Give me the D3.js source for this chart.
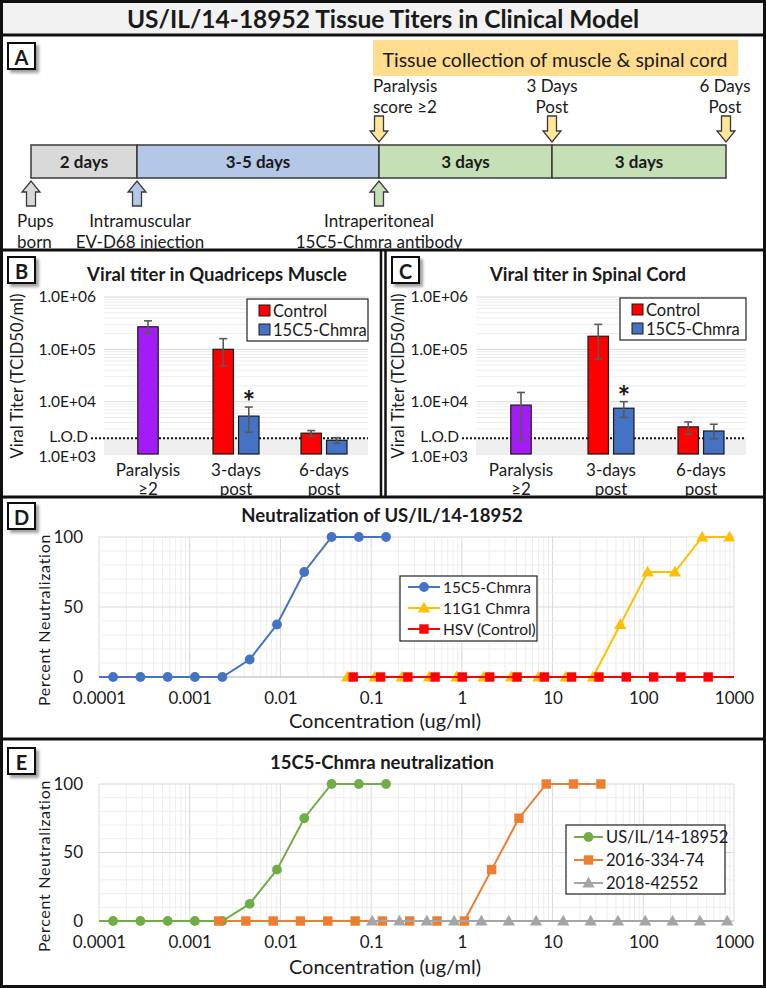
<!DOCTYPE html>
<html><head><meta charset="utf-8">
<script src="https://cdn.jsdelivr.net/npm/d3@7"></script>
<style>
body{margin:0;background:#fff}
svg{display:block}
text{font-family:Lato,"Open Sans",sans-serif;fill:#1a1a1a}
</style>
</head><body>
<svg id="fig" width="766" height="988"></svg>
<script>
// ---------------- DATA ----------------
const figureTitle = "US/IL/14-18952 Tissue Titers in Clinical Model";

// Panel A (timeline diagram)
const timelineSegments = ["2 days", "3-5 days", "3 days", "3 days"];
const collectionNote = "Tissue collection of muscle & spinal cord";
const topEventLines = [["Paralysis", "score \u22652"], ["3 Days", "Post"], ["6 Days", "Post"]];
const bottomEventLines = [["Pups", "born"], ["Intramuscular", "EV-D68 injection"], ["Intraperitoneal", "15C5-Chmra antibody"]];

// Panels B & C (viral titer, TCID50/ml)
const titerCategories = ["Paralysis \u22652", "3-days post", "6-days post"];
const titerCategoryLines = [["Paralysis", "\u22652"], ["3-days", "post"], ["6-days", "post"]];
const barCategory = ["Paralysis \u22652", "3-days post", "3-days post", "6-days post", "6-days post"];
const barSeries = ["Paralysis", "Control", "15C5-Chmra", "Control", "15C5-Chmra"];
const muscleMean = [2.7e5, 1.0e5, 5.3e3, 2.5e3, 1.83e3];
const muscleErrLow = [2.0e5, 4.8e4, 2.6e3, 2.15e3, 1.6e3];
const muscleErrHigh = [3.5e5, 1.6e5, 7.9e3, 2.8e3, 2.05e3];
const muscleSignificant = [false, false, true, false, false];
const cordMean = [8.6e3, 1.78e5, 7.5e3, 3.3e3, 2.75e3];
const cordErrLow = [1.85e3, 6.5e4, 5.0e3, 2.4e3, 1.95e3];
const cordErrHigh = [1.5e4, 3.0e5, 1.0e4, 4.1e3, 3.7e3];
const cordSignificant = [false, false, true, false, false];
const limitOfDetection = 2.0e3;
const titerTickValues = [1e3, 1e4, 1e5, 1e6];
const titerTickLabels = ["1.0E+03", "1.0E+04", "1.0E+05", "1.0E+06"];
const titerLegend = ["Control", "15C5-Chmra"];

// Panel D (Neutralization of US/IL/14-18952), concentration ug/ml vs % neutralization
const concA15C5 = [0.0000715, 0.000143, 0.000286, 0.000572, 0.00114, 0.00229, 0.00458, 0.00916, 0.0183, 0.0366, 0.0732, 0.146];
const neutA15C5 = [0, 0, 0, 0, 0, 0, 12.5, 37.5, 75, 100, 100, 100];
const conc11G1 = [0.0545, 0.109, 0.218, 0.436, 0.872, 1.74, 3.49, 6.98, 13.95, 27.9, 55.8, 111.6, 223, 446, 893];
const neut11G1 = [0, 0, 0, 0, 0, 0, 0, 0, 0, 0, 37.5, 75, 75, 100, 100];
const concHSV = [0.0634, 0.127, 0.254, 0.507, 1.01, 2.03, 4.06, 8.12, 16.2, 32.5, 64.9, 130, 260, 519, 1039];
const neutHSV = [0, 0, 0, 0, 0, 0, 0, 0, 0, 0, 0, 0, 0, 0, 0];
const seriesNamesD = ["15C5-Chmra", "11G1 Chmra", "HSV (Control)"];

// Panel E (15C5-Chmra neutralization of three strains)
const concUSIL = [0.0000715, 0.000143, 0.000286, 0.000572, 0.00114, 0.00229, 0.00458, 0.00916, 0.0183, 0.0366, 0.0732, 0.146];
const neutUSIL = [0, 0, 0, 0, 0, 0, 12.5, 37.5, 75, 100, 100, 100];
const conc2016 = [0.00208, 0.00416, 0.00832, 0.0166, 0.0333, 0.0666, 0.133, 0.266, 0.532, 1.065, 2.13, 4.26, 8.52, 17.0, 34.1];
const neut2016 = [0, 0, 0, 0, 0, 0, 0, 0, 0, 0, 37.5, 75, 100, 100, 100];
const conc2018 = [0.1027, 0.205, 0.411, 0.822, 1.64, 3.29, 6.57, 13.1, 26.3, 52.6, 105, 210, 421, 841];
const neut2018 = [0, 0, 0, 0, 0, 0, 0, 0, 0, 0, 0, 0, 0, 0];
const seriesNamesE = ["US/IL/14-18952", "2016-334-74", "2018-42552"];

const concTickValues = [1e-4, 1e-3, 1e-2, 1e-1, 1, 10, 100, 1000];
const concTickLabels = ["0.0001", "0.001", "0.01", "0.1", "1", "10", "100", "1000"];
const neutTickValues = [0, 50, 100];

// ---------------- DRAWING ----------------
const svg = d3.select("#fig");
const defs = svg.append("defs");
const sh = defs.append("filter").attr("id", "shadow").attr("x", "-30%").attr("y", "-30%").attr("width", "170%").attr("height", "170%");
sh.append("feDropShadow").attr("dx", 3).attr("dy", 3).attr("stdDeviation", 1.6).attr("flood-color", "#777").attr("flood-opacity", 0.7);

svg.append("rect").attr("width", 766).attr("height", 988).attr("fill", "#fff");

// Title band
svg.append("rect").attr("x", 0).attr("y", 0).attr("width", 766).attr("height", 35).attr("fill", "#F2F2F2");
svg.append("text").attr("x", 383).attr("y", 18).attr("text-anchor", "middle").attr("dominant-baseline", "central")
  .attr("font-size", 24.5).attr("font-weight", 700).text(figureTitle);

// Panel frames
const frame = svg.append("g").attr("stroke", "#111").attr("stroke-width", 3).attr("fill", "none");
frame.append("rect").attr("x", 1.5).attr("y", 1.5).attr("width", 763).attr("height", 985);
[35, 250, 497, 739].forEach(yy => frame.append("line").attr("x1", 0).attr("x2", 766).attr("y1", yy).attr("y2", yy));
frame.append("line").attr("x1", 381).attr("x2", 381).attr("y1", 250).attr("y2", 497).attr("stroke-width", 2.5);
frame.append("line").attr("x1", 385.5).attr("x2", 385.5).attr("y1", 250).attr("y2", 497).attr("stroke-width", 2.5);

function panelLabel(x, y, letter) {
  const g = svg.append("g");
  g.append("rect").attr("x", x).attr("y", y).attr("width", 27).attr("height", 26)
    .attr("fill", "#fff").attr("stroke", "#111").attr("stroke-width", 2).attr("filter", "url(#shadow)");
  g.append("text").attr("x", x + 13.5).attr("y", y + 13.5).attr("text-anchor", "middle").attr("dominant-baseline", "central")
    .attr("font-size", 20).attr("font-weight", 700).text(letter);
}
panelLabel(8, 43, "A");
panelLabel(8, 257, "B");
panelLabel(392, 257, "C");
panelLabel(8, 503, "D");
panelLabel(8, 748, "E");

// ---------- Panel A ----------
(function () {
  const g = svg.append("g");
  const bounds = [31, 137, 379, 552, 726];
  const segFill = ["#D9D9D9", "#B4C7E7", "#C5E0B4", "#C5E0B4"];
  const ty = 145, th = 33;
  g.append("rect").attr("x", 373).attr("y", 40).attr("width", 365).attr("height", 36).attr("fill", "#FFDC8E");
  g.append("text").attr("x", 555).attr("y", 59).attr("text-anchor", "middle").attr("dominant-baseline", "central")
    .attr("font-size", 19.5).text(collectionNote);
  timelineSegments.forEach((s, i) => {
    g.append("rect").attr("x", bounds[i]).attr("y", ty).attr("width", bounds[i + 1] - bounds[i]).attr("height", th)
      .attr("fill", segFill[i]).attr("stroke", "#3a3a3a").attr("stroke-width", 1.5);
    g.append("text").attr("x", (bounds[i] + bounds[i + 1]) / 2).attr("y", ty + th / 2).attr("text-anchor", "middle")
      .attr("dominant-baseline", "central").attr("font-size", 17).attr("font-weight", 700).text(s);
  });
  function arrow(cx, yFrom, yTo, fill) {
    const dir = yTo > yFrom ? 1 : -1, sw = 4.5, hw = 9, hl = 11;
    const pts = [[cx - sw, yFrom], [cx + sw, yFrom], [cx + sw, yTo - dir * hl], [cx + hw, yTo - dir * hl], [cx, yTo],
      [cx - hw, yTo - dir * hl], [cx - sw, yTo - dir * hl]];
    g.append("path").attr("d", d3.line()(pts) + "Z").attr("fill", fill).attr("stroke", "#3a3a3a").attr("stroke-width", 1.3);
  }
  [2, 3, 4].forEach(i => arrow(bounds[i], 116, 142, "#FFE699"));
  [0, 1, 2].forEach(i => arrow(bounds[i], 206, 181, segFill[i]));
  const topX = [373, 552, 725], topAnchor = ["start", "middle", "middle"];
  topEventLines.forEach((lines, i) => lines.forEach((l, j) =>
    g.append("text").attr("x", topX[i]).attr("y", 85 + j * 21).attr("text-anchor", topAnchor[i])
      .attr("dominant-baseline", "central").attr("font-size", 17).text(l)));
  const botX = [17, 140, 379], botAnchor = ["start", "middle", "middle"];
  bottomEventLines.forEach((lines, i) => lines.forEach((l, j) =>
    g.append("text").attr("x", botX[i]).attr("y", 220 + j * 21).attr("text-anchor", botAnchor[i])
      .attr("dominant-baseline", "central").attr("font-size", 17).text(l)));
})();

// ---------- Panels B & C ----------
const seriesColor = {"Paralysis": "#A31CF5", "Control": "#FF0000", "15C5-Chmra": "#4472C4"};
function titerPanel(o) {
  const g = svg.append("g");
  const y = d3.scaleLog().domain([1e3, 1e6]).range([454, 297]);
  const x = d3.scaleBand().domain(titerCategories).range([o.x0, o.x1]);
  const sub = d3.scaleBand().domain(titerLegend).range([-23, 23]).paddingInner(0.2);
  const bw = sub.bandwidth();
  g.append("text").attr("x", o.titleX).attr("y", 274).attr("text-anchor", "middle").attr("dominant-baseline", "central")
    .attr("font-size", 18.5).attr("font-weight", 700).text(o.title);
  // gridlines
  const grid = [];
  for (let e = 3; e < 6; e++) for (let k = 1; k < 10; k++) grid.push(k * Math.pow(10, e));
  grid.push(1e6);
  g.selectAll(".gr").data(grid).enter().append("line")
    .attr("x1", o.x0).attr("x2", o.x1).attr("y1", d => y(d)).attr("y2", d => y(d))
    .attr("stroke", d => titerTickValues.includes(d) ? "#D9D9D9" : "#EDEDED").attr("stroke-width", 1);
  // below-LOD shading
  g.append("rect").attr("x", o.x0).attr("width", o.x1 - o.x0).attr("y", y(limitOfDetection))
    .attr("height", y(1e3) - y(limitOfDetection)).attr("fill", "#EFEFEF");
  // axis labels
  const ax = g.append("g").attr("transform", `translate(${o.x0},0)`)
    .call(d3.axisLeft(y).tickValues(titerTickValues).tickFormat((d, i) => titerTickLabels[i]).tickSize(0).tickPadding(8));
  ax.select(".domain").remove();
  ax.selectAll("text").attr("font-size", 15.5).attr("font-family", "Lato").attr("fill", "#1a1a1a")
    .attr("dy", d => d === 1e3 ? "0.5em" : "0.32em");
  g.append("text").attr("x", o.lodEnd).attr("y", y(limitOfDetection) - 2.5).attr("text-anchor", "end").attr("dominant-baseline", "central")
    .attr("font-size", 15.5).text("L.O.D");
  g.append("line").attr("x1", o.lodEnd + 3).attr("x2", o.x1).attr("y1", y(limitOfDetection)).attr("y2", y(limitOfDetection))
    .attr("stroke", "#111").attr("stroke-width", 2).attr("stroke-dasharray", "2,2");
  // axis title
  g.append("text").attr("transform", `translate(${o.ytX},376) rotate(-90)`).attr("text-anchor", "middle")
    .attr("dominant-baseline", "central").attr("font-size", 16.5).text("Viral Titer (TCID50/ml)");
  // category labels
  titerCategoryLines.forEach((lines, i) => lines.forEach((l, j) =>
    g.append("text").attr("x", x(titerCategories[i]) + x.bandwidth() / 2).attr("y", 469 + j * 19.5)
      .attr("text-anchor", "middle").attr("dominant-baseline", "central").attr("font-size", 17).text(l)));
  // bars
  const bars = barCategory.map((c, i) => {
    const cx = x(c) + x.bandwidth() / 2;
    const left = barSeries[i] === "Paralysis" ? cx - bw / 2 : cx + sub(barSeries[i]);
    return {left, s: barSeries[i], v: o.mean[i], lo: o.lo[i], hi: o.hi[i], star: o.star[i]};
  });
  g.selectAll(".bar").data(bars).enter().append("rect")
    .attr("x", d => d.left).attr("width", bw).attr("y", d => y(d.v)).attr("height", d => y(1e3) - y(d.v))
    .attr("fill", d => seriesColor[d.s]).attr("stroke", "#1a1a1a").attr("stroke-width", 1.2);
  const eb = g.selectAll(".eb").data(bars).enter().append("g").attr("stroke", "#595959").attr("stroke-width", 1.6);
  eb.append("line").attr("x1", d => d.left + bw / 2).attr("x2", d => d.left + bw / 2).attr("y1", d => y(d.lo)).attr("y2", d => y(d.hi));
  eb.append("line").attr("x1", d => d.left + bw / 2 - 4).attr("x2", d => d.left + bw / 2 + 4).attr("y1", d => y(d.lo)).attr("y2", d => y(d.lo));
  eb.append("line").attr("x1", d => d.left + bw / 2 - 4).attr("x2", d => d.left + bw / 2 + 4).attr("y1", d => y(d.hi)).attr("y2", d => y(d.hi));
  g.selectAll(".star").data(bars.filter(d => d.star)).enter().append("text")
    .attr("x", d => d.left + bw / 2).attr("y", d => y(d.hi) + 6).attr("text-anchor", "middle")
    .attr("font-size", 30).attr("font-weight", 700).text("*");
  // legend
  const lg = g.append("g");
  lg.append("rect").attr("x", o.legX).attr("y", o.legY).attr("width", o.x1 - o.legX).attr("height", 42)
    .attr("fill", "#fff").attr("stroke", "#222").attr("stroke-width", 1.2);
  titerLegend.forEach((s, i) => {
    lg.append("rect").attr("x", o.legX + 12).attr("y", o.legY + 6 + i * 19).attr("width", 11).attr("height", 11)
      .attr("fill", seriesColor[s]).attr("stroke", "#1a1a1a").attr("stroke-width", 1);
    lg.append("text").attr("x", o.legX + 26).attr("y", o.legY + 11.5 + i * 19).attr("dominant-baseline", "central")
      .attr("font-size", 16.5).text(s);
  });
}
titerPanel({x0: 104, x1: 368, titleX: 217, title: "Viral titer in Quadriceps Muscle", mean: muscleMean, lo: muscleErrLow,
  hi: muscleErrHigh, star: muscleSignificant, lodEnd: 88, ytX: 17, legX: 247, legY: 299});
titerPanel({x0: 476, x1: 746, titleX: 588, title: "Viral titer in Spinal Cord", mean: cordMean, lo: cordErrLow,
  hi: cordErrHigh, star: cordSignificant, lodEnd: 459, ytX: 398, legX: 620, legY: 298});

// ---------- Panels D & E ----------
let clipN = 0;
function neutPanel(o) {
  const g = svg.append("g");
  const x = d3.scaleLog().domain([1e-4, 1e3]).range([99, 734]);
  const y = d3.scaleLinear().domain([0, 100]).range([o.yBot, o.yTop]);
  g.append("text").attr("x", 382).attr("y", o.titleY).attr("text-anchor", "middle").attr("dominant-baseline", "central")
    .attr("font-size", 18.5).attr("font-weight", 700).text(o.title);
  const vx = [];
  for (let e = -4; e < 3; e++) for (let k = 1; k < 10; k++) vx.push(k * Math.pow(10, e));
  vx.push(1000);
  g.selectAll(".vg").data(vx).enter().append("line").attr("x1", d => x(d)).attr("x2", d => x(d))
    .attr("y1", y(0)).attr("y2", y(100)).attr("stroke", d => concTickValues.includes(d) ? "#D9D9D9" : "#EDEDED");
  g.selectAll(".hg").data(d3.range(0, 101, 10)).enter().append("line").attr("x1", x(1e-4)).attr("x2", x(1000))
    .attr("y1", d => y(d)).attr("y2", d => y(d)).attr("stroke", d => d % 50 === 0 ? "#D9D9D9" : "#EDEDED");
  g.append("line").attr("x1", x(1e-4)).attr("x2", x(1000)).attr("y1", y(0)).attr("y2", y(0)).attr("stroke", "#BFBFBF");
  const xa = g.append("g").attr("transform", `translate(0,${o.yBot})`)
    .call(d3.axisBottom(x).tickValues(concTickValues).tickFormat((d, i) => concTickLabels[i]).tickSize(0).tickPadding(15));
  xa.select(".domain").remove();
  xa.selectAll("text").attr("font-size", 17).attr("font-family", "Lato").attr("fill", "#1a1a1a");
  const ya = g.append("g").attr("transform", `translate(99,0)`)
    .call(d3.axisLeft(y).tickValues(neutTickValues).tickSize(0).tickPadding(16));
  ya.select(".domain").remove();
  ya.selectAll("text").attr("font-size", 17).attr("font-family", "Lato").attr("fill", "#1a1a1a");
  g.append("text").attr("transform", `translate(43,${o.ytY}) rotate(-90)`).attr("text-anchor", "middle")
    .attr("dominant-baseline", "central").attr("font-size", 16).attr("letter-spacing", 0.7).text("Percent Neutralization");
  g.append("text").attr("x", 385).attr("y", o.xtY).attr("text-anchor", "middle").attr("dominant-baseline", "central")
    .attr("font-size", 20).text("Concentration (ug/ml)");
  const cid = "clip" + (clipN++);
  defs.append("clipPath").attr("id", cid).append("rect").attr("x", 99).attr("y", o.yTop - 8).attr("width", 635).attr("height", o.yBot - o.yTop + 16);
  const plot = g.append("g").attr("clip-path", `url(#${cid})`);
  const line = d3.line().x(d => x(d[0])).y(d => y(d[1]));
  function marker(sel, shape, color) {
    if (shape === "circle") sel.append("circle").attr("r", 4.9).attr("fill", color);
    else if (shape === "square") sel.append("rect").attr("x", -4.7).attr("y", -4.7).attr("width", 9.4).attr("height", 9.4).attr("fill", color);
    else sel.append("path").attr("d", d3.symbol(d3.symbolTriangle, 66)()).attr("transform", "translate(0,1)").attr("fill", color);
  }
  o.series.forEach(s => {
    const pts = s.c.map((c, i) => [c, s.v[i]]);
    plot.append("path").attr("d", line(pts)).attr("fill", "none").attr("stroke", s.color).attr("stroke-width", 2);
    pts.filter(p => p[0] >= 1e-4 && p[0] <= 1000).forEach(p => {
      const m = plot.append("g").attr("transform", `translate(${x(p[0])},${y(p[1])})`);
      marker(m, s.shape, s.color);
    });
  });
  const L = o.leg;
  g.append("rect").attr("x", L.x).attr("y", L.y).attr("width", L.w).attr("height", L.h).attr("fill", "#fff")
    .attr("stroke", "#222").attr("stroke-width", 1.2);
  o.series.forEach((s, i) => {
    const yy = L.y + L.first + i * L.step;
    g.append("line").attr("x1", L.x + 8).attr("x2", L.x + 8 + L.lw).attr("y1", yy).attr("y2", yy).attr("stroke", s.color).attr("stroke-width", 2);
    marker(g.append("g").attr("transform", `translate(${L.x + 8 + L.lw / 2},${yy})`), s.shape, s.color);
    g.append("text").attr("x", L.x + 11 + L.lw).attr("y", yy).attr("dominant-baseline", "central").attr("font-size", L.fs).text(s.name);
  });
}
neutPanel({yTop: 537, yBot: 677, titleY: 515, ytY: 620, xtY: 720, title: "Neutralization of US/IL/14-18952",
  series: [
    {name: seriesNamesD[0], c: concA15C5, v: neutA15C5, color: "#4472C4", shape: "circle"},
    {name: seriesNamesD[1], c: conc11G1, v: neut11G1, color: "#FFC000", shape: "triangle"},
    {name: seriesNamesD[2], c: concHSV, v: neutHSV, color: "#FF0000", shape: "square"}],
  leg: {x: 400, y: 576, w: 137, h: 65, first: 11, step: 21, lw: 32, fs: 15.5}});
neutPanel({yTop: 784, yBot: 921, titleY: 762, ytY: 866, xtY: 966, title: "15C5-Chmra neutralization",
  series: [
    {name: seriesNamesE[0], c: concUSIL, v: neutUSIL, color: "#70AD47", shape: "circle"},
    {name: seriesNamesE[1], c: conc2016, v: neut2016, color: "#ED7D31", shape: "square"},
    {name: seriesNamesE[2], c: conc2018, v: neut2018, color: "#A5A5A5", shape: "triangle"}],
  leg: {x: 566, y: 825, w: 159, h: 69, first: 12, step: 23, lw: 29, fs: 16.5}});
</script>
</body></html>
